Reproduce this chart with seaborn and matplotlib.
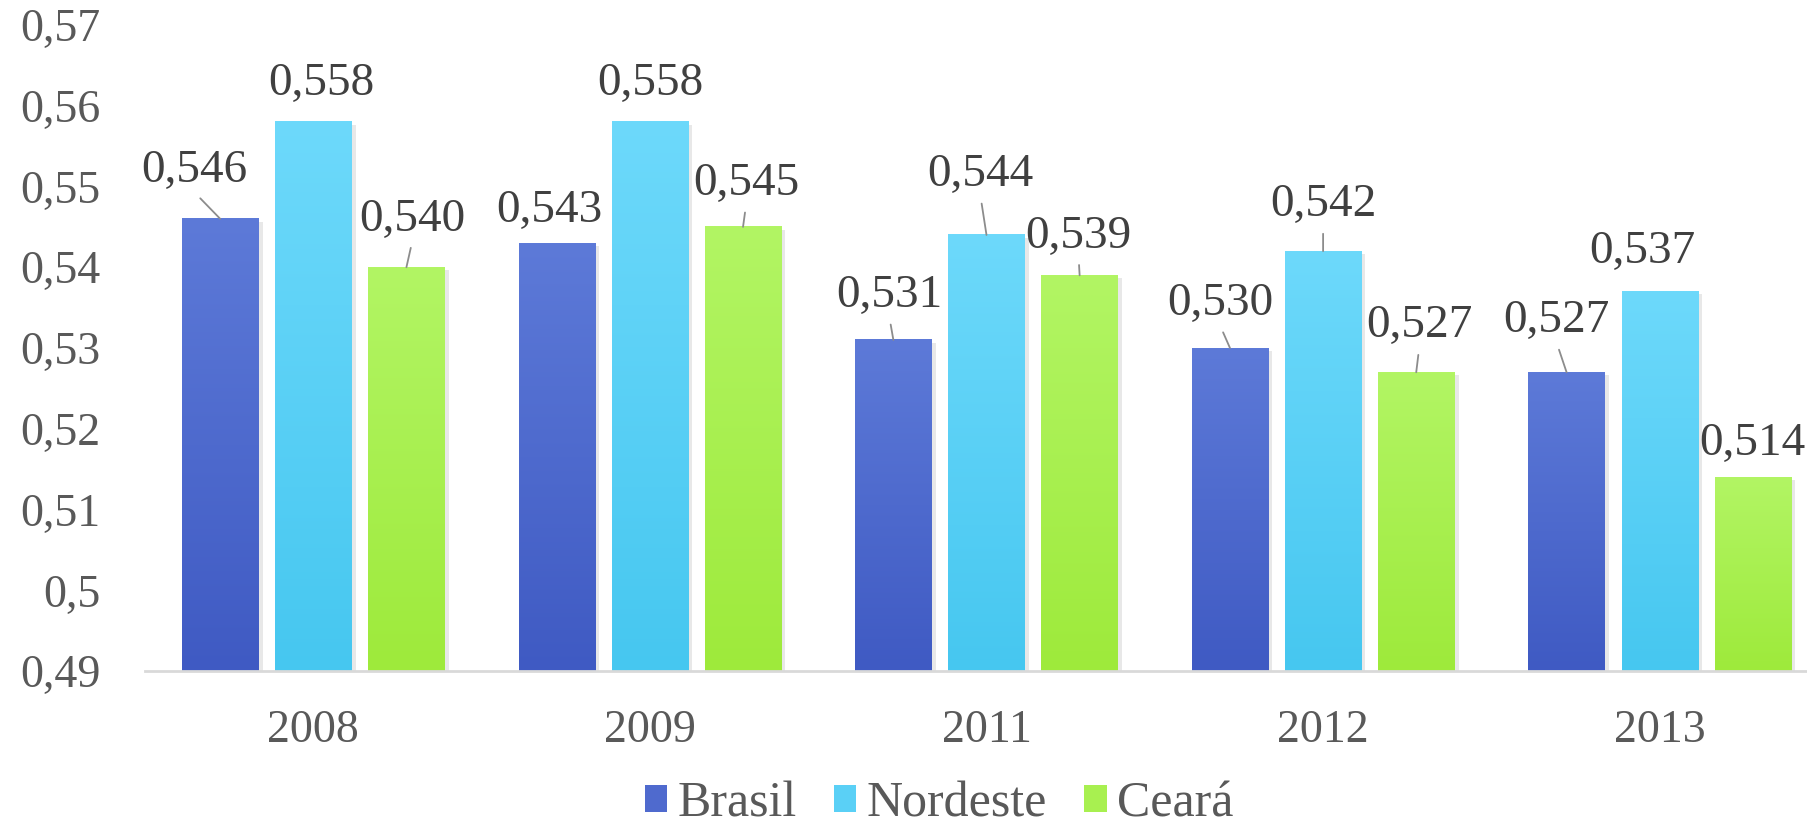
import numpy as np
import pandas as pd
import matplotlib
matplotlib.use("Agg")
import matplotlib.pyplot as plt
import seaborn as sns
from matplotlib.colors import LinearSegmentedColormap
from matplotlib.patches import Patch
from matplotlib import patheffects as pe

# ---- data -------------------------------------------------------------
years = ["2008", "2009", "2011", "2012", "2013"]
series_names = ["Brasil", "Nordeste", "Ceará"]
brasil = [0.546, 0.543, 0.531, 0.530, 0.527]
nordeste = [0.558, 0.558, 0.544, 0.542, 0.537]
ceara = [0.540, 0.545, 0.539, 0.527, 0.514]
y_ticks = [0.49, 0.50, 0.51, 0.52, 0.53, 0.54, 0.55, 0.56, 0.57]
y_tick_labels = ["0,49", "0,5", "0,51", "0,52", "0,53", "0,54", "0,55", "0,56", "0,57"]

# ---- styling ----------------------------------------------------------
# (top, bottom) colours of the vertical gradient of each series
grad_colors = {
    "Brasil": ("#5D7AD8", "#3F5AC3"),
    "Nordeste": ("#6DD9FB", "#46C7F0"),
    "Ceará": ("#B2F564", "#9EEA3B"),
}
mid_colors = ["#4F6ACE", "#5AD0F6", "#A8F050"]

# label offsets (pixels) from the top of each bar, and whether a leader line is drawn
label_offsets = [
    [(-26, 48), (-7, 32), (-4, 44), (-10, 44), (-10, 51)],
    [(8, 38), (0, 38), (-6, 60), (0, 46), (-17, 40)],
    [(6, 48), (3, 43), (-1, 39), (3, 46), (0, 33)],
]
leaders = [
    [True, False, True, True, True],
    [False, False, True, True, False],
    [True, True, True, True, False],
]

sns.set_theme(style="white")
plt.rcParams["font.family"] = ["Liberation Serif", "DejaVu Serif"]

df = pd.DataFrame({
    "Ano": years * 3,
    "Gini": brasil + nordeste + ceara,
    "Região": [n for n in series_names for _ in years],
})

fig = plt.figure(figsize=(18.08, 8.26), dpi=100)
ax = fig.add_axes([145 / 1808, 155 / 826, 1683 / 1808, 646 / 826])

sns.barplot(data=df, x="Ano", y="Gini", hue="Região", hue_order=series_names,
            palette=mid_colors, width=0.83, gap=0.18, errorbar=None,
            legend=False, ax=ax, linewidth=0)

ymin, ymax = 0.49, 0.57
grad = np.linspace(0, 1, 256).reshape(-1, 1)
for si, (name, cont) in enumerate(zip(series_names, ax.containers)):
    top_c, bot_c = grad_colors[name]
    cmap = LinearSegmentedColormap.from_list(name, [bot_c, top_c])
    for bi, bar in enumerate(cont):
        bar.set_path_effects([pe.SimplePatchShadow(offset=(3, -2), shadow_rgbFace="#808080", alpha=0.18),
                              pe.Normal()])
        x0, w, h = bar.get_x(), bar.get_width(), bar.get_height()
        ax.imshow(grad, extent=[x0, x0 + w, ymin, h], origin="lower", cmap=cmap,
                  aspect="auto", zorder=bar.get_zorder() + 0.1, interpolation="bilinear")
        dx, dy = label_offsets[si][bi]
        arrow = None
        if leaders[si][bi]:
            arrow = dict(arrowstyle="-", color="#8C8C8C", lw=1.3, relpos=(0.5, 0.0),
                         shrinkA=3, shrinkB=0)
        ax.annotate(f"{h:.3f}".replace(".", ","), xy=(x0 + w / 2, h),
                    xytext=(dx, dy), textcoords="offset pixels",
                    ha="center", va="center", fontsize=34, color="#404040",
                    arrowprops=arrow, zorder=5)

ax.set_xlim(-0.5, 4.5)
ax.set_ylim(ymin, ymax)
ax.set_yticks(y_ticks)
ax.set_yticklabels(y_tick_labels)
ax.set_xlabel("")
ax.set_ylabel("")
ax.tick_params(axis="both", length=0, labelsize=33, labelcolor="#595959")
ax.tick_params(axis="y", pad=32)
ax.tick_params(axis="x", pad=28)
for side in ("left", "top", "right"):
    ax.spines[side].set_visible(False)
ax.spines["bottom"].set_color("#D9D9D9")
ax.spines["bottom"].set_linewidth(2)
ax.spines["bottom"].set_zorder(6)

handles = [Patch(facecolor=c, edgecolor="none") for c in mid_colors]
fig.legend(handles, series_names, loc="center", bbox_to_anchor=(939 / 1808, 22 / 826),
           ncol=3, frameon=False, fontsize=36, handlelength=0.45, handleheight=0.45,
           handletextpad=0.2, columnspacing=0.75, labelcolor="#595959")

fig.savefig("out.png", dpi=100)
